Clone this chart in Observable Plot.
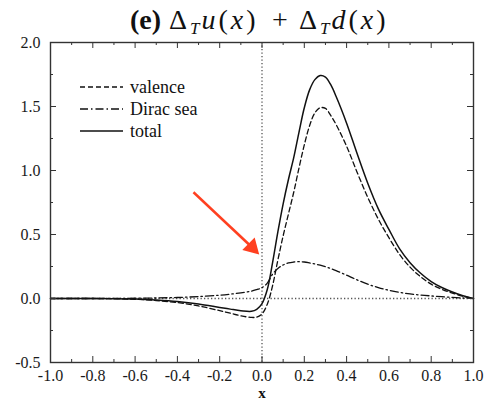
<!DOCTYPE html>
<html><head><meta charset="utf-8">
<script src="https://cdn.jsdelivr.net/npm/d3@7"></script>
<script src="https://cdn.jsdelivr.net/npm/@observablehq/plot@0.6"></script>
<style>
body{margin:0;background:#fff;}
#wrap{position:relative;width:484px;height:402px;font-family:'Liberation Serif';color:#111;}
.tt{position:absolute;top:4px;font-size:28px;white-space:nowrap;font-family:'Liberation Serif';line-height:normal;}
.tt.m{letter-spacing:3px;}
.tt sub{font-size:17px;vertical-align:-5px;line-height:0;letter-spacing:2px;}
#xlabel{position:absolute;left:0;width:524px;top:387px;text-align:center;font-size:15px;font-weight:bold;line-height:12px;font-family:'Liberation Serif';}
.leg{position:absolute;left:80px;height:20px;display:flex;align-items:center;font-size:18px;font-family:'Liberation Serif';}
.leg svg{margin-right:7px;}
</style>
</head><body><div id="wrap"></div>
<script>
const xs       = [-1.0,-0.9,-0.8,-0.7,-0.6,-0.5,-0.4,-0.3,-0.2,-0.15,-0.1,-0.05,-0.025,0,0.025,0.05,0.075,0.1,0.125,0.15,0.175,0.2,0.225,0.25,0.275,0.3,0.325,0.35,0.4,0.45,0.5,0.55,0.6,0.65,0.7,0.75,0.8,0.85,0.9,0.95,1.0];
const valence  = [0,0,0,-0.002,-0.006,-0.016,-0.032,-0.058,-0.095,-0.115,-0.135,-0.148,-0.145,-0.12,-0.045,0.1,0.3,0.49,0.66,0.83,1.02,1.2,1.35,1.45,1.49,1.485,1.43,1.36,1.19,0.985,0.79,0.62,0.475,0.345,0.245,0.17,0.112,0.072,0.042,0.018,0];
const diracSea = [0,0,0,0.001,0.002,0.004,0.008,0.015,0.026,0.034,0.044,0.058,0.07,0.085,0.12,0.19,0.235,0.262,0.278,0.285,0.288,0.285,0.278,0.27,0.26,0.248,0.234,0.218,0.182,0.145,0.112,0.085,0.064,0.048,0.036,0.027,0.02,0.014,0.009,0.004,0];
const total    = [0,0,0,-0.001,-0.004,-0.012,-0.024,-0.043,-0.07,-0.083,-0.095,-0.1,-0.085,-0.04,0.07,0.28,0.52,0.74,0.93,1.1,1.3,1.49,1.63,1.71,1.742,1.73,1.67,1.58,1.37,1.13,0.9,0.7,0.54,0.39,0.28,0.197,0.132,0.086,0.051,0.022,0];

const xTicksMajor = [-1.0,-0.8,-0.6,-0.4,-0.2,0.0,0.2,0.4,0.6,0.8,1.0];
const xTicksMinor = [-0.9,-0.7,-0.5,-0.3,-0.1,0.1,0.3,0.5,0.7,0.9];
const yTicksMajor = [-0.5,0.0,0.5,1.0,1.5,2.0];
const yTicksMinor = [-0.25,0.25,0.75,1.25,1.75];
const legendLabels = ["valence","Dirac sea","total"];
const titleParts = [
  {html:'<b>(e)</b>', left:130, cls:''},
  {html:'Δ<sub><i>T</i></sub><i>u</i>(<i>x</i>)', left:169, cls:'m'},
  {html:'+', left:272, cls:''},
  {html:'Δ<sub><i>T</i></sub><i>d</i>(<i>x</i>)', left:299, cls:'m'}
];
const arrowAnnot = [{x1:-0.324,y1:0.83,x2:-0.06,y2:0.42}];
const arrowHead  = [{x:-0.047,y:0.40}];

const W=484,H=402,mL=50,mR=11,mT=42,mB=40;
const innerW=W-mL-mR, innerH=H-mT-mB;
const rows = s => xs.map((x,i)=>({x, y:s[i]}));
const ink = "#111";
const dashes = {valence:"5,3", dirac:"8,3,1.5,3", total:null};

const chart = Plot.plot({
  width:W, height:H, marginLeft:mL, marginRight:mR, marginTop:mT, marginBottom:mB,
  x:{domain:[-1,1]}, y:{domain:[-0.5,2]},
  style:{fontFamily:"'Liberation Serif'", fontSize:"16px", color:"#1a1a1a", background:"white"},
  marks:[
    Plot.ruleX([0],{stroke:"#555",strokeWidth:1.3,strokeDasharray:"1.3,2.2"}),
    Plot.ruleY([0],{stroke:"#555",strokeWidth:1.3,strokeDasharray:"1.3,2.2"}),
    Plot.line(rows(valence),{x:"x",y:"y",stroke:ink,strokeWidth:1.3,strokeDasharray:dashes.valence,curve:"catmull-rom"}),
    Plot.line(rows(diracSea),{x:"x",y:"y",stroke:ink,strokeWidth:1.3,strokeDasharray:dashes.dirac,curve:"catmull-rom"}),
    Plot.line(rows(total),{x:"x",y:"y",stroke:ink,strokeWidth:1.5,curve:"catmull-rom"}),
    Plot.tickX(xTicksMajor,{x:d=>d,insetTop:innerH-6,stroke:"#333"}),
    Plot.tickX(xTicksMajor,{x:d=>d,insetBottom:innerH-6,stroke:"#333"}),
    Plot.tickX(xTicksMinor,{x:d=>d,insetTop:innerH-3,stroke:"#333"}),
    Plot.tickX(xTicksMinor,{x:d=>d,insetBottom:innerH-3,stroke:"#333"}),
    Plot.tickY(yTicksMajor,{y:d=>d,insetRight:innerW-6,stroke:"#333"}),
    Plot.tickY(yTicksMajor,{y:d=>d,insetLeft:innerW-6,stroke:"#333"}),
    Plot.tickY(yTicksMinor,{y:d=>d,insetRight:innerW-3,stroke:"#333"}),
    Plot.tickY(yTicksMinor,{y:d=>d,insetLeft:innerW-3,stroke:"#333"}),
    Plot.frame({stroke:"#333",strokeWidth:1.4}),
    Plot.axisX({ticks:xTicksMajor,tickSize:0,tickPadding:7.5,tickFormat:d=>d.toFixed(1),label:null}),
    Plot.axisY({ticks:yTicksMajor,tickSize:0,tickPadding:10,tickFormat:d=>d.toFixed(1),label:null}),
    Plot.link(arrowAnnot,{x1:"x1",y1:"y1",x2:"x2",y2:"y2",stroke:"#ff4020",strokeWidth:2.5}),
    Plot.dot(arrowHead,{x:"x",y:"y",symbol:"triangle",r:6.5,fill:"#ff4020",stroke:null,rotate:135})
  ]
});

const wrap = document.getElementById("wrap");
wrap.appendChild(chart);

titleParts.forEach(p=>{
  const s = document.createElement("div");
  s.className = "tt " + p.cls;
  s.style.left = p.left + "px";
  s.innerHTML = p.html;
  wrap.appendChild(s);
});

const xl = document.createElement("div");
xl.id = "xlabel"; xl.textContent = "x";
wrap.appendChild(xl);

const legDash = [dashes.valence, dashes.dirac, null];
const legTop = [77, 99, 121];
legendLabels.forEach((lab,i)=>{
  const d = document.createElement("div");
  d.className = "leg";
  d.style.top = legTop[i] + "px";
  d.innerHTML = `<svg width="43" height="4"><line x1="0" y1="2" x2="43" y2="2" stroke="${ink}" stroke-width="${i==2?1.5:1.3}" ${legDash[i]?`stroke-dasharray="${legDash[i]}"`:""}/></svg><span>${lab}</span>`;
  wrap.appendChild(d);
});
</script>
</body></html>
